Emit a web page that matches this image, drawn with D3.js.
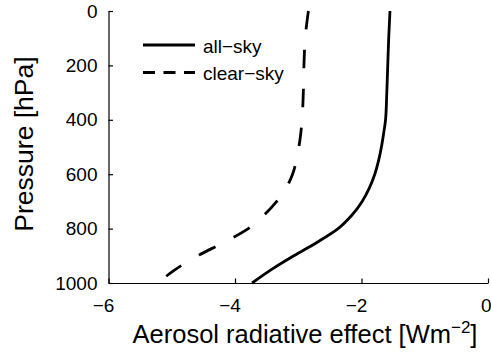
<!DOCTYPE HTML>
<html>
  <head>
    <title>Aerosol radiative effect profile</title>
    <style>
      body { margin: 0; background: #fff; }
      text { font-family: 'Liberation Sans', Arial, sans-serif; fill: #000; }
    </style>
  </head>
  <body>
    <script src="https://cdn.jsdelivr.net/npm/d3@7/dist/d3.min.js" charset="utf-8"></script>
    <script>
      // pressure levels [hPa] and profiles [W m-2]
      var pressure = [0, 100, 200, 300, 400, 450, 500, 550, 600, 650, 700, 750, 800, 850, 900, 950, 1000];
      var allSky   = [-1.55, -1.57, -1.585, -1.60, -1.62, -1.65, -1.685, -1.73, -1.79, -1.875, -1.99, -2.15, -2.37, -2.70, -3.07, -3.42, -3.73];
      var clearSky = [-2.84, -2.89, -2.91, -2.92, -2.94, -2.96, -2.99, -3.03, -3.09, -3.19, -3.34, -3.54, -3.79, -4.17, -4.59, -4.94, -5.22];

      var xTicks = [-6, -4, -2, 0];
      var yTicks = [0, 200, 400, 600, 800, 1000];
      var seriesNames = ['all\u2212sky', 'clear\u2212sky'];

      var width = 491,
        height = 364,
        margin = {top: 11, right: 3, bottom: 81, left: 108.5};

      var svg = d3.select('body').append('svg')
          .attr('width', width)
          .attr('height', height);

      var x = d3.scaleLinear()
          .domain([-6, 0])
          .range([margin.left, width - margin.right]);

      var y = d3.scaleLinear()
          .domain([0, 1000])
          .range([margin.top, height - margin.bottom]);

      // axes, ticks pointing inward
      var gx = svg.append('g')
          .attr('transform', 'translate(0,' + (height - margin.bottom) + ')')
          .call(d3.axisBottom(x)
            .tickValues(xTicks)
            .tickFormat(d3.format('d'))
            .tickSizeInner(-4.5)
            .tickSizeOuter(0)
            .tickPadding(15.5));

      // the digit sits on the tick, the minus hangs to the left
      gx.selectAll('text')
          .attr('text-anchor', 'end')
          .attr('dx', function(d) { return d === 0 ? 3 : 5.3; });

      var gy = svg.append('g')
          .attr('transform', 'translate(' + margin.left + ',0)')
          .call(d3.axisLeft(y)
            .tickValues(yTicks)
            .tickFormat(d3.format('d'))
            .tickSizeInner(-4.5)
            .tickSizeOuter(0)
            .tickPadding(11));

      svg.selectAll('.tick text')
          .style('font-size', '19px')
          .style('font-family', "'Liberation Sans', Arial, sans-serif");
      svg.selectAll('.domain, .tick line')
          .attr('stroke', '#000')
          .attr('stroke-width', 1.2);

      // profiles
      function profile(values) {
        return d3.line()
            .x(function(d) { return x(d); })
            .y(function(d, i) { return y(pressure[i]); })
            .curve(d3.curveMonotoneY)(values);
      }

      svg.append('path')
          .attr('d', profile(allSky))
          .attr('fill', 'none')
          .attr('stroke', '#000')
          .attr('stroke-width', 2.8);

      svg.append('path')
          .attr('d', profile(clearSky))
          .attr('fill', 'none')
          .attr('stroke', '#000')
          .attr('stroke-width', 2.8)
          .attr('stroke-dasharray', '18.5,20.5');

      // legend
      var legend = svg.append('g');
      var dashes = [null, '12,8.5'];
      seriesNames.forEach(function(name, i) {
        var ly = 45 + i * 27.5;
        legend.append('line')
            .attr('x1', 143).attr('x2', 195)
            .attr('y1', ly).attr('y2', ly)
            .attr('stroke', '#000')
            .attr('stroke-width', 2.8)
            .attr('stroke-dasharray', dashes[i]);
        legend.append('text')
            .attr('x', 203)
            .attr('y', ly + 7.5)
            .style('font-size', '19px')
            .text(name);
      });

      // axis titles
      var xt = svg.append('text')
          .attr('x', 305)
          .attr('y', 343)
          .attr('text-anchor', 'middle')
          .style('font-size', '25.5px');
      xt.append('tspan').text('Aerosol radiative effect [Wm');
      xt.append('tspan').attr('dy', -10).style('font-size', '17px').text('\u22122');
      xt.append('tspan').attr('dy', 10).text(']');

      svg.append('text')
          .attr('transform', 'translate(33,144) rotate(-90)')
          .attr('text-anchor', 'middle')
          .style('font-size', '26.5px')
          .text('Pressure [hPa]');
    </script>
  </body>
</html>
